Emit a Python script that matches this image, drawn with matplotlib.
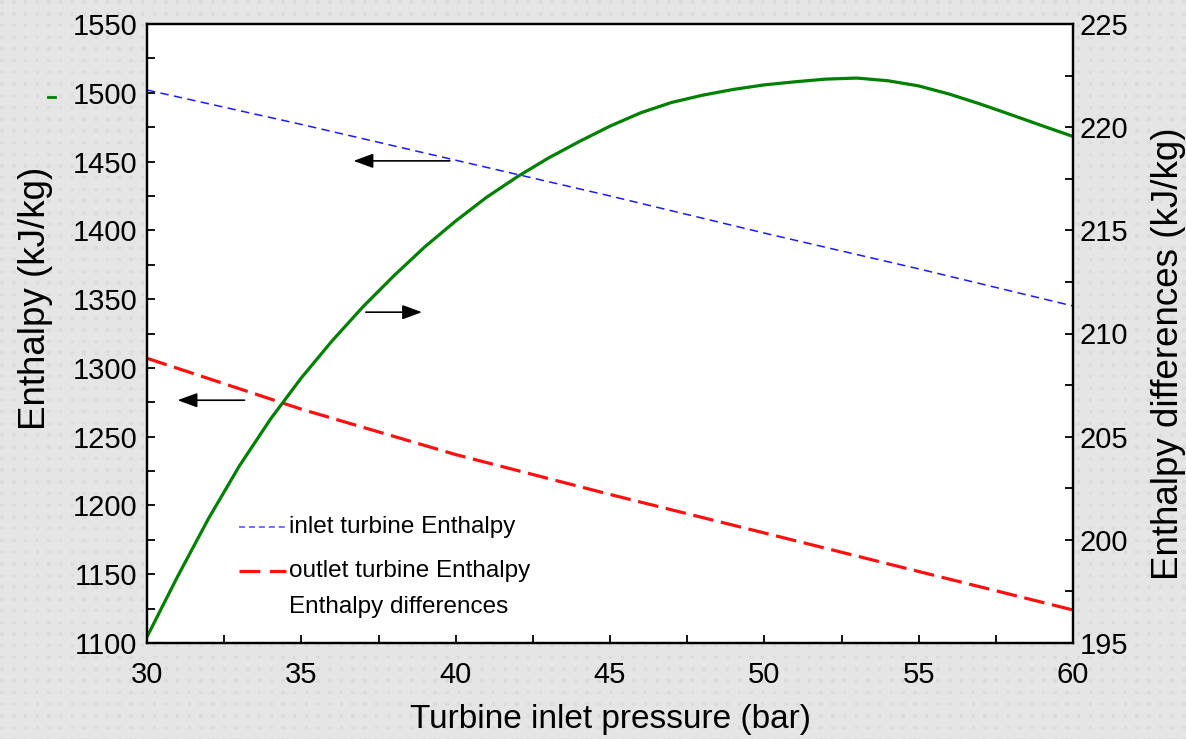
import numpy as np
import matplotlib
matplotlib.use('Agg')
import matplotlib.pyplot as plt
from matplotlib.lines import Line2D

plt.rcParams['font.family'] = ['Liberation Sans', 'DejaVu Sans']

# data
pressure = [30, 35, 40, 45, 50, 55, 60]
h_inlet = [1502, 1477, 1451, 1425, 1398, 1372, 1345]
h_outlet = [1307, 1270, 1237, 1208, 1180, 1152, 1124]

p_diff = list(range(30, 61))
h_diff = [195.3, 198.25, 201.05, 203.6, 205.85, 207.85, 209.65, 211.3, 212.8,
          214.2, 215.45, 216.6, 217.6, 218.5, 219.3, 220.05, 220.7, 221.2,
          221.55, 221.83, 222.05, 222.2, 222.33, 222.38, 222.25, 222.0,
          221.6, 221.12, 220.6, 220.07, 219.55]

# arrows: (x_start, x_end, y) in data units of the left axis
arrows_left = [(39.9, 36.6, 1450.5), (33.25, 30.9, 1276.5)]
arrow_right = (37.0, 39.0, 1340.5)

W, H = 1186, 739
fig = plt.figure(figsize=(W / 100, H / 100), dpi=100)

# dotted grey background
bg = fig.add_axes([0, 0, 1, 1], zorder=-10)
yy, xx = np.mgrid[0:H, 0:W]
dots = ((xx % 11.7) < 3.5) & ((yy % 11.7) < 3.5)
img = np.where(dots, 0.86, 0.895)
bg.imshow(img, cmap='gray', vmin=0, vmax=1, interpolation='nearest',
          extent=[0, W, H, 0], aspect='auto')
bg.set_axis_off()

ax = fig.add_axes([147 / W, 1 - 643 / H, 926 / W, 619 / H])
ax.set_facecolor('white')
ax2 = ax.twinx()

red_dash = (0, (6.5, 2.4))
ax.plot(pressure, h_inlet, color='#1a1aff', lw=1.1, ls=(0, (5.5, 3.5)))
ax.plot(pressure, h_outlet, color='#ff1010', lw=2.3, ls=red_dash)
ax2.plot(p_diff, h_diff, color='#008000', lw=2.3, solid_joinstyle='round')

ax.set_xlim(30, 60)
ax.set_ylim(1100, 1550)
ax2.set_ylim(195, 225)
ax.set_xticks(np.arange(30, 61, 5))
ax.set_xticks(np.arange(30, 60.1, 2.5), minor=True)
ax.set_yticks(np.arange(1100, 1551, 50))
ax.set_yticks(np.arange(1100, 1551, 25), minor=True)
ax2.set_yticks(np.arange(195, 226, 5))
ax2.set_yticks(np.arange(195, 225.1, 2.5), minor=True)

ax.tick_params(which='both', direction='in', length=6, width=1.3,
               top=False, right=False, labelsize=21, pad=7)
ax.tick_params(axis='x', pad=13)
ax2.tick_params(which='both', direction='in', length=6, width=1.3,
                labelsize=21, pad=5)
for a in (ax, ax2):
    for s in a.spines.values():
        s.set_linewidth(1.6)

ax.set_xlabel('Turbine inlet pressure (bar)', fontsize=24, labelpad=11)
ax.set_ylabel('Enthalpy (kJ/kg)', fontsize=26.5, labelpad=14, y=0.557)
ax2.set_ylabel('Enthalpy differences (kJ/kg)', fontsize=26.5, labelpad=16,
               y=0.468)

for x0, x1, y in arrows_left:
    ax.annotate('', xy=(x1, y), xytext=(x0, y),
                arrowprops=dict(arrowstyle='-|>,head_length=0.6,head_width=0.22',
                                color='black', lw=1.2, mutation_scale=20))
ax.annotate('', xy=(arrow_right[1], arrow_right[2]),
            xytext=(arrow_right[0], arrow_right[2]),
            arrowprops=dict(arrowstyle='-|>,head_length=0.6,head_width=0.22',
                            color='black', lw=1.2, mutation_scale=20))

# legend drawn by hand
def to_ax(px, py):
    return (px - 147) / 926, (643 - py) / 619

for (py, col, lw, ls, label) in [
        (527, '#4a4aff', 1.1, (0, (4, 2.5)), 'inlet turbine Enthalpy'),
        (571, '#ff1010', 2.3, (0, (6.5, 3)), 'outlet turbine Enthalpy'),
        (607, None, 0, '-', 'Enthalpy differences')]:
    x0, y0 = to_ax(239, py)
    x1, _ = to_ax(286, py)
    if col:
        ax.plot([x0, x1], [y0, y0], transform=ax.transAxes, color=col, lw=lw,
                ls=ls, clip_on=False)
    tx, _ = to_ax(289, py)
    ax.text(tx, y0, label, transform=ax.transAxes, fontsize=17.5,
            va='center', ha='left')

# stray green mark left of the axis
fig.add_artist(Line2D([48 / W, 55 / W], [1 - 97 / H, 1 - 97 / H],
                      transform=fig.transFigure, color='#008000', lw=2))

fig.savefig('out.png', dpi=100)
